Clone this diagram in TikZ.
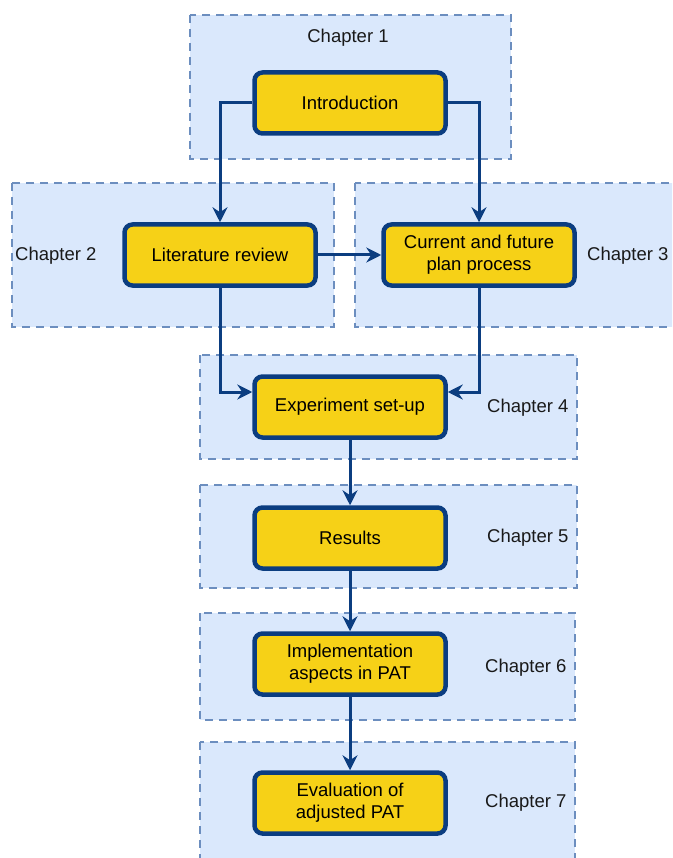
\documentclass[tikz,border=0pt]{standalone}
\usepackage{fontspec}
\setmainfont{Liberation Sans}
\usetikzlibrary{arrows.meta}
\definecolor{chapfill}{HTML}{DAE8FC}
\definecolor{chapline}{HTML}{6C8EBF}
\definecolor{stepfill}{HTML}{F6D117}
\definecolor{stepline}{HTML}{0B3D80}
\begin{document}
\begin{tikzpicture}[x=1pt,y=-1pt,
  chapter/.style={fill=chapfill, draw=chapline, line width=2.5pt, dash pattern=on 8pt off 6pt},
  chaplabel/.style={font=\fontsize{18.5}{22}\selectfont, text=black!90, inner sep=0pt},
  stepbox/.style={draw=stepline, fill=stepfill, line width=4.5pt, rounded corners=8pt,
    minimum width=191pt, minimum height=61pt, align=center, inner sep=0pt,
    font=\fontsize{18.5}{22}\selectfont},
  flow/.style={draw=stepline, line width=3pt, -{Stealth[length=15pt,width=15pt,inset=5pt]}}]
\useasboundingbox (0,0) rectangle (672,858);
\clip (0,0) rectangle (672,858);

% chapter regions
\draw[chapter] (190,15) rectangle (511,159);
\draw[chapter] (12,183) rectangle (334,327);
\draw[chapter] (355,183) rectangle (690,327);
\draw[chapter] (200,355) rectangle (577,459);
\draw[chapter] (200,485) rectangle (577,588);
\draw[chapter] (200,613) rectangle (575,720);
\draw[chapter] (200,742) rectangle (575,880);

% chapter labels
\node[chaplabel] (c1) at (348,38) {Chapter 1};
\node[chaplabel, anchor=west] (c2) at (15,256) {Chapter 2};
\node[chaplabel, anchor=west] (c3) at (587,256) {Chapter 3};
\node[chaplabel, anchor=west] (c4) at (487,408) {Chapter 4};
\node[chaplabel, anchor=west] (c5) at (487,538) {Chapter 5};
\node[chaplabel, anchor=west] (c6) at (485,668) {Chapter 6};
\node[chaplabel, anchor=west] (c7) at (485,803) {Chapter 7};

% steps
\node[stepbox] (intro) at (350,103) {Introduction};
\node[stepbox] (lit) at (220,255) {Literature review};
\node[stepbox] (cur) at (479,255) {Current and future\\plan process};
\node[stepbox] (exp) at (350,407) {Experiment set-up};
\node[stepbox] (res) at (350,538) {Results};
\node[stepbox] (impl) at (350,664) {Implementation\\aspects in PAT};
\node[stepbox] (eval) at (350,803) {Evaluation of\\adjusted PAT};

% connectors
\draw[flow] (intro.west) -| (lit.north);
\draw[flow] (intro.east) -| (cur.north);
\draw[flow] (lit.east) -- (cur.west);
\draw[flow] (lit.south) |- ([yshift=15pt]exp.west);
\draw[flow] (cur.south) |- ([yshift=15pt]exp.east);
\draw[flow] (exp.south) -- (res.north);
\draw[flow] (res.south) -- (impl.north);
\draw[flow] (impl.south) -- (eval.north);
\end{tikzpicture}
\end{document}
